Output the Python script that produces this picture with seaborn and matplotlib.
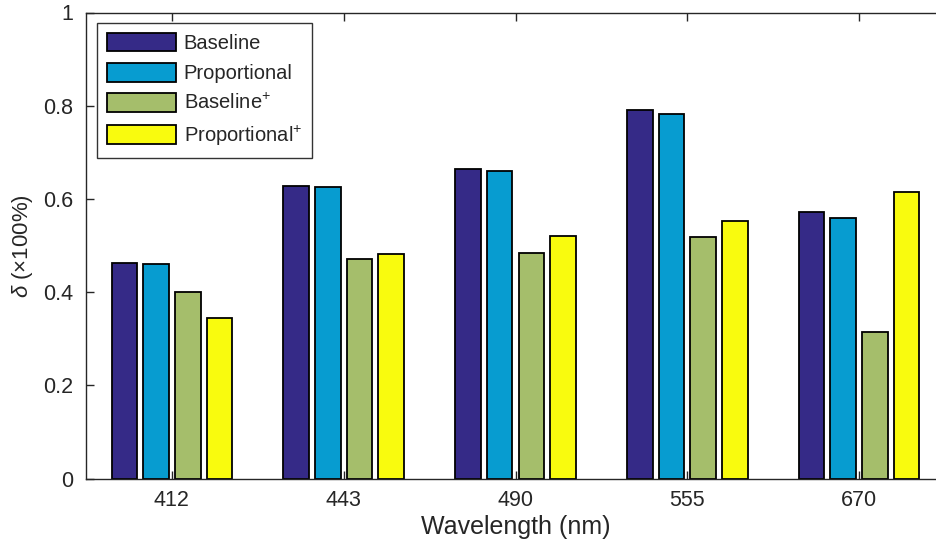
import numpy as np
import pandas as pd
import matplotlib
matplotlib.use('Agg')
import matplotlib.pyplot as plt
import seaborn as sns

# data
wavelengths = ['412', '443', '490', '555', '670']
series_names = ['Baseline', 'Proportional', 'Baseline$^{+}$', 'Proportional$^{+}$']
baseline = [0.462, 0.628, 0.665, 0.790, 0.572]
proportional = [0.461, 0.625, 0.660, 0.782, 0.560]
baseline_plus = [0.401, 0.471, 0.484, 0.519, 0.315]
proportional_plus = [0.344, 0.482, 0.520, 0.552, 0.616]
bar_colors = ['#352a87', '#079cd0', '#a5be6b', '#f9fb0e']
ytick_values = [0, 0.2, 0.4, 0.6, 0.8, 1]
ytick_labels = ['0', '0.2', '0.4', '0.6', '0.8', '1']

sns.set_theme(style='white')
plt.rcParams['font.family'] = ['Liberation Sans', 'DejaVu Sans']
plt.rcParams['mathtext.fontset'] = 'custom'
plt.rcParams['mathtext.rm'] = 'Liberation Sans'
plt.rcParams['mathtext.it'] = 'Liberation Sans:italic'

df = pd.DataFrame({
    'wavelength': wavelengths * 4,
    'series': np.repeat(series_names, len(wavelengths)),
    'value': baseline + proportional + baseline_plus + proportional_plus,
})

fig = plt.figure(figsize=(9.37, 5.54), dpi=100)
ax = fig.add_axes([86 / 937, 1 - 478.7 / 554, 859 / 937, 466.2 / 554])

sns.barplot(data=df, x='wavelength', y='value', hue='series',
            palette=bar_colors, width=0.737, gap=0.19,
            edgecolor='black', linewidth=1.3, saturation=1, ax=ax)

ax.set_xlim(-0.5, 4.5)
ax.set_ylim(0, 1)
ax.set_yticks(ytick_values)
ax.set_yticklabels(ytick_labels)

axis_grey = '#262626'
for sp in ax.spines.values():
    sp.set_color(axis_grey)
    sp.set_linewidth(1.0)
    sp.set_visible(True)
ax.tick_params(direction='in', length=6, width=1, color=axis_grey,
               labelcolor=axis_grey, labelsize=15.5,
               top=True, right=True, left=True, bottom=True)
ax.tick_params(axis='y', pad=9)
ax.tick_params(axis='x', pad=8)

ax.set_xlabel('Wavelength (nm)', fontsize=18, color=axis_grey, labelpad=3)
ax.set_ylabel(r'$\delta$ ($\times$100%)', fontsize=16, color=axis_grey, labelpad=6)

leg = ax.legend(loc='upper left', bbox_to_anchor=(11 / 859, 1 - 10 / 466.2),
                fontsize=14.5, frameon=True, fancybox=False, framealpha=1,
                edgecolor='#333333', handlelength=3.4, handleheight=1.05,
                labelspacing=0.5, borderpad=0.5, handletextpad=0.4,
                borderaxespad=0, title=None)
leg.get_frame().set_linewidth(1.0)

fig.savefig('out.png', dpi=100)
